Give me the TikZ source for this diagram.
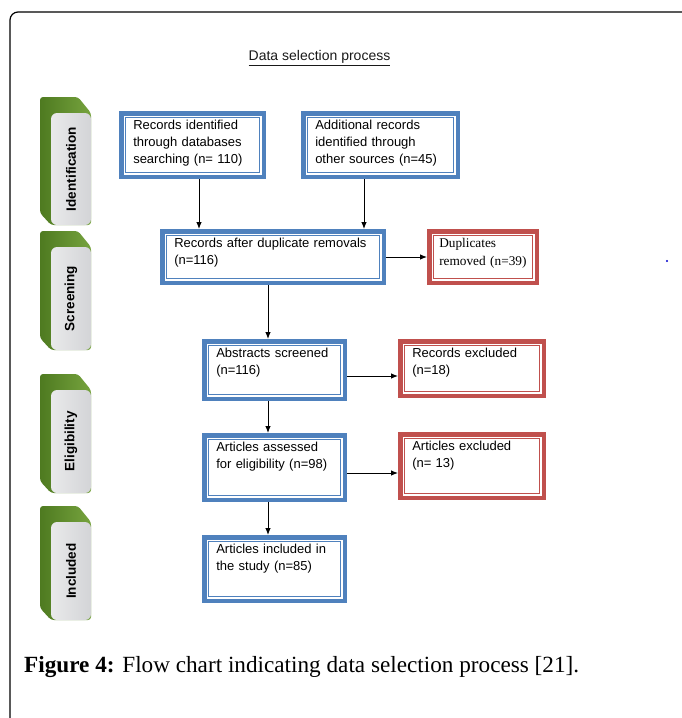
\documentclass[tikz,border=0pt]{standalone}
\usepackage{fontspec}
\setmainfont{Liberation Serif}
\setsansfont{Liberation Sans}
\usetikzlibrary{arrows.meta}
\definecolor{boxblue}{HTML}{4F81BD}
\definecolor{boxred}{HTML}{C0504D}
\definecolor{tabgreen}{HTML}{76A33E}
\definecolor{tabdark}{HTML}{4E7A20}
\definecolor{tabgray}{HTML}{D3D4D7}
\begin{document}
\begin{tikzpicture}[x=1pt,y=-1pt,
    bluebox/.style={draw=boxblue, line width=4.5pt, fill=white, align=left, anchor=north west,
      inner xsep=12pt, inner ysep=6pt, text height=10pt,
      font=\sffamily\fontsize{13}{17}\selectfont},
    redbox/.style={bluebox, draw=boxred},
    arr/.style={-{Latex[length=7pt,width=5.5pt]}, line width=0.9pt},
    tabtext/.style={rotate=90, font=\sffamily\bfseries\fontsize{13.5}{15}\selectfont}]
        \useasboundingbox (0,0) rectangle (681,718);
        % Frame
        \draw[line width=1.2pt, rounded corners=8pt] (10,730) -- (10,12) -- (700,12);
        \node[font=\sffamily\fontsize{14}{16}\selectfont, text=black!90] (title) at (319.5,58) {\underline{Data selection process}};
        % Stage tabs
        \foreach \ytop/\ybot/\name in {113/225/Identification, 247/350/Screening, 390/493/Eligibility, 522/620/Included} {
            \pgfmathsetmacro\ymid{(\ytop+\ybot)/2}
            \shade[left color=tabdark, right color=tabgreen, rounded corners=3pt]
                (51,\ybot) -- (40,\ybot-12) -- (40,\ytop-16) -- (78,\ytop-16) -- (91,\ytop) -- (91,\ybot) -- cycle;
            \shade[left color=tabgray!50!white, right color=tabgray, rounded corners=6pt] (51,\ytop) rectangle (91,\ybot);
            \node[tabtext] (tab-\name) at (71,\ymid) {\name};
        }
        % Boxes
        \node[bluebox, text width=118.5pt, text depth=41.5pt] (ident) at (119,111) {Records identified\\through databases\\searching (n= 110)};
        \node[bluebox, text width=130.5pt, text depth=41.5pt] (other) at (301,111) {Additional records\\identified through\\other sources (n=45)};
        \node[bluebox, text width=197.5pt, text depth=29.5pt] (dup) at (160,229) {Records after duplicate removals\\(n=116)};
        \node[redbox, font=\rmfamily\fontsize{13.3}{18}\selectfont, inner xsep=10pt, text width=87.5pt, text depth=29.5pt] (removed) at (427,229) {Duplicates\\removed (n=39)};
        \node[bluebox, text width=116.5pt, text depth=35.5pt] (abs) at (202,339) {Abstracts screened\\(n=116)};
        \node[redbox, text width=119.5pt, text depth=32.5pt] (recex) at (398,339) {Records excluded\\(n=18)};
        \node[bluebox, text width=116.5pt, text depth=42.5pt] (elig) at (202,433) {Articles assessed\\for eligibility (n=98)};
        \node[redbox, text width=119.5pt, text depth=41.5pt] (artex) at (398,432) {Articles excluded\\(n= 13)};
        \node[bluebox, text width=116.5pt, text depth=41.5pt] (incl) at (202,535) {Articles included in\\the study (n=85)};
        % Inner lines of the double borders
        \foreach \b/\c in {ident/boxblue, other/boxblue, dup/boxblue, removed/boxred, abs/boxblue,
                           recex/boxred, elig/boxblue, artex/boxred, incl/boxblue} {
            \draw[\c, line width=0.8pt] ([xshift=6.5pt,yshift=-6.5pt]\b.north west) rectangle ([xshift=-6.5pt,yshift=6.5pt]\b.south east);
        }
        % Arrows
        \draw[arr] ([xshift=6.5pt]ident.south) -- ([xshift=6.5pt]ident.south |- dup.north);
        \draw[arr] ([xshift=-16.5pt]other.south) -- ([xshift=-16.5pt]other.south |- dup.north);
        \draw[arr] (dup.east) -- (removed.west);
        \draw[arr] ([xshift=-5pt]dup.south) -- ([xshift=-5pt]dup.south |- abs.north);
        \draw[arr] ([yshift=-6pt]abs.east) -- ([yshift=-6pt]abs.east -| recex.west);
        \draw[arr] ([xshift=-6.5pt]abs.south) -- ([xshift=-6.5pt]abs.south |- elig.north);
        \draw[arr] ([yshift=-5.5pt]elig.east) -- ([yshift=-5.5pt]elig.east -| artex.west);
        \draw[arr] ([xshift=-6.5pt]elig.south) -- ([xshift=-6.5pt]elig.south |- incl.north);
        \fill[blue!80!black] (667,261) circle (1.2pt);
        % Caption
        \node[anchor=west, inner sep=0pt, font=\rmfamily\fontsize{23.2}{26}\selectfont] (caption) at (24,667)
            {\textbf{Figure 4:} Flow chart indicating data selection process [21].};
    \end{tikzpicture}
\end{document}
